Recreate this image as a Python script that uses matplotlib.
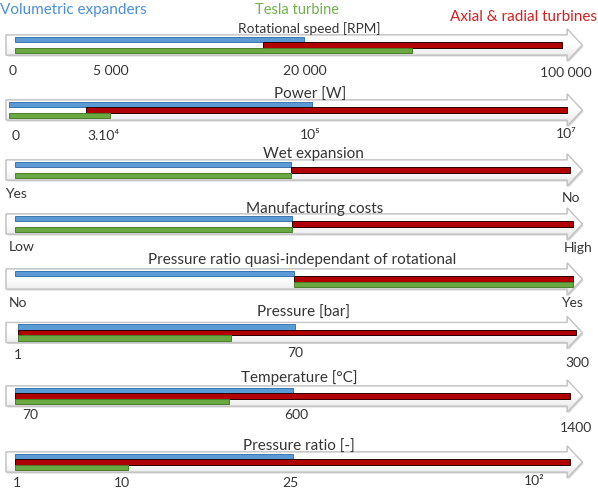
import numpy as np
import matplotlib
matplotlib.use('Agg')
import matplotlib.pyplot as plt
from matplotlib.patches import Polygon, Rectangle
from matplotlib.colors import LinearSegmentedColormap

plt.rcParams['font.family'] = ['Lato', 'DejaVu Sans']

# --- data: one entry per arrow, positions along the arrow (0 = start, 100 = end of shaft)
titles = ['Rotational speed [RPM]', 'Power [W]', 'Wet expansion', 'Manufacturing costs',
          'Pressure ratio quasi-independant of rotational', 'Pressure [bar]',
          'Temperature [°C]', 'Pressure ratio [-]']
blue_range = [(0, 52), (-1, 53.6), (0, 49.7), (0, 49.9), (0, 50.2), (0.5, 50.5), (0, 50), (0, 50)]
red_range = [(44.7, 98.6), (12.8, 99.5), (49.7, 100), (49.9, 100.5), (50.2, 100.5),
             (0.5, 101), (0, 100), (0, 100)]
green_range = [(0, 71.5), (-1, 17.2), (0, 49.7), (0, 49.9), (50.2, 100.5),
               (0.5, 39), (0, 38.6), (0, 20.4)]
tick_labels = [['0', '5 000', '20 000', '100 000'],
               ['0', '3.10⁴', '10⁵', '10⁷'],
               ['Yes', 'No'],
               ['Low', 'High'],
               ['No', 'Yes'],
               ['1', '70', '300'],
               ['70', '600', '1400'],
               ['1', '10', '25', '10²']]
tick_pos = [[-0.4, 17.3, 52.3, 99.3],
            [0.2, 16.0, 53.2, 99.3],
            [0.2, 100.2],
            [1.2, 101.5],
            [0.5, 100.4],
            [0.5, 50.5, 101.3],
            [2.7, 50.7, 101.1],
            [0.4, 19.3, 49.7, 93.5]]
groups = ['Volumetric expanders', 'Tesla turbine', 'Axial & radial turbines']

# --- layout (pixels for y)
row_y = [46, 111, 171, 225, 280, 333.5, 397, 463]
title_y = [29, 95, 154, 209, 260, 313, 378, 447]
title_x = [53.0, 53.2, 53.7, 54.0, 51.7, 51.9, 51.2, 51.2]
tick_y = [[71, 71, 71, 73], [136, 136, 135, 134], [194, 198], [247, 248],
          [303, 303], [355, 353, 363], [415, 415, 428], [483, 483, 483, 481]]

W, H = 598, 489
px_per_unit = 5.55
x_lo = -15 / px_per_unit
x_hi = (W - 15) / px_per_unit

txt = '#353535'
blue, blue_e = '#5b9bd5', '#3e75b0'
red, red_e = '#b00000', '#2a0000'
green, green_e = '#6aa842', '#4a7f2c'

fig = plt.figure(figsize=(W / 100, H / 100), dpi=100)
ax = fig.add_axes([0, 0, 1, 1])
ax.axis('off')

grad_cmap = LinearSegmentedColormap.from_list('g', ['#ffffff', '#ffffff', '#e2e2e2'])
grad = np.linspace(0, 1, 64).reshape(-1, 1)

x0, xb, xt = -1.6, 99.5, 102.2
for i, y in enumerate(row_y):
    verts = [(x0, y - 10), (xb, y - 10), (xb, y - 16), (xt, y), (xb, y + 16), (xb, y + 10), (x0, y + 10)]
    shadow = Polygon([(vx + 0.25, vy + 1.5) for vx, vy in verts], closed=True,
                     facecolor='#d6d6d6', edgecolor='none', zorder=1)
    ax.add_patch(shadow)
    body = Polygon(verts, closed=True, facecolor='white', edgecolor='#bdbdbd', lw=0.9, zorder=2)
    ax.add_patch(body)
    im = ax.imshow(grad, cmap=grad_cmap, extent=(x0, xt, y + 16, y - 16),
                   aspect='auto', zorder=2.1, interpolation='bilinear')
    im.set_clip_path(body)
    edge = Polygon(verts, closed=True, facecolor='none', edgecolor='#c4c4c4', lw=0.9, zorder=2.2)
    ax.add_patch(edge)

    for rng, off, fc, ec in [(blue_range[i], -8.5, blue, blue_e),
                             (red_range[i], -3.0, red, red_e),
                             (green_range[i], 2.5, green, green_e)]:
        ax.add_patch(Rectangle((rng[0], y + off), rng[1] - rng[0], 5.5,
                               facecolor=fc, edgecolor=ec, lw=0.7, zorder=3))

    ax.text(title_x[i], title_y[i], titles[i], ha='center', va='center',
            fontsize=9.8 if i == 0 else 11, color=txt, zorder=4)
    for lab, p, ty in zip(tick_labels[i], tick_pos[i], tick_y[i]):
        ax.text(p, ty, lab, ha='center', va='center', fontsize=10, color=txt, zorder=4)

fig.text(0 / W, 1 - 10 / H, groups[0], ha='left', va='center', fontsize=11, color='#4a8fd6')
fig.text(297 / W, 1 - 10 / H, groups[1], ha='center', va='center', fontsize=10.5, color='#72b04e')
fig.text(597 / W, 1 - 17 / H, groups[2], ha='right', va='center', fontsize=11, color='#d02222')

ax.set_xlim(x_lo, x_hi)
ax.set_ylim(H, 0)

fig.savefig('out.png', dpi=100)
